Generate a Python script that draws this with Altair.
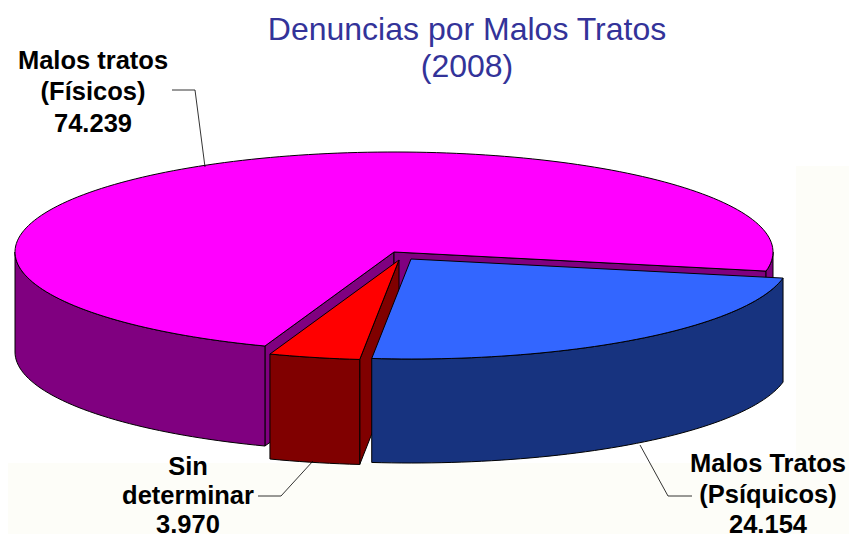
import math
import altair as alt
import pandas as pd

categories = ["Malos tratos (Físicos)", "Malos Tratos (Psíquicos)", "Sin determinar"]
values = [74239, 24154, 3970]
top_colors = ["#FF00FF", "#3366FF", "#FF0000"]
wall_colors = ["#800080", "#17337F", "#800000"]
apex_x = [394, 411, 399]
apex_y = [252, 259, 260]
depths = [100, 104, 105]
RX, RY = 379, 100
START = 11.0
TITLE_COLOR = "#333399"
BG = "#FDFDF8"

label_text = ["Malos tratos", "(Físicos)", "74.239", "Sin", "determinar", "3.970",
              "Malos Tratos", "(Psíquicos)", "24.154"]
label_x = [93, 93, 93, 188, 188, 188, 768, 768, 768]
label_y = [69, 100, 132, 475, 504, 533, 472, 503, 533]
title_text = ["Denuncias por Malos Tratos", "(2008)"]
title_x = [467, 467]
title_y = [40, 77]
leaders = [
    [(172, 90), (195, 90), (205, 167)],
    [(258, 496), (281, 496), (313, 461)],
    [(692, 496), (668, 496), (640, 445)],
]

xscale = alt.Scale(domain=[8, 849], range=[0, 841], nice=False, zero=False)
yscale = alt.Scale(domain=[8, 534], range=[0, 526], nice=False, zero=False)
X = alt.X("x:Q", scale=xscale, axis=None)
Y = alt.Y("y:Q", scale=yscale, axis=None)


def poly(points):
    points = list(points) + [points[0]]
    return pd.DataFrame({"x": [p[0] for p in points], "y": [p[1] for p in points], "o": range(len(points))})


def shape(points, fill, sw=1.0):
    return alt.Chart(poly(points)).mark_line(
        fill=fill, stroke="#000000", strokeWidth=sw, interpolate="linear", strokeJoin="miter"
    ).encode(x=X, y=Y, order="o:Q")


def rim(i, a, b, dy=0):
    n = max(2, int(abs(b - a) / 1.5))
    return [
        (apex_x[i] + RX * math.cos(math.radians(a + (b - a) * k / n)),
         apex_y[i] + RY * math.sin(math.radians(a + (b - a) * k / n)) + dy)
        for k in range(n + 1)
    ]


total = sum(values)
spans = [v / total * 360 for v in values]
ang = {
    0: (START + spans[1] + spans[2], START + 360),
    1: (START, START + spans[1]),
    2: (START + spans[1], START + spans[1] + spans[2]),
}


def pieces(i, cut_ends):
    a, b = ang[i]
    d = depths[i]
    top = rim(i, a, b)
    c = (apex_x[i], apex_y[i])
    c2 = (apex_x[i], apex_y[i] + d)
    out = []
    for end in cut_ends:
        p = rim(i, a, b)[end]
        out.append(shape([c, p, (p[0], p[1] + d), c2], wall_colors[i]))
    # only the part of the outer wall that faces the viewer
    ranges = []
    if a < 180:
        ranges.append((a, min(b, 180)))
    if b > 360:
        ranges.append((360, b))
    for lo, hi in ranges:
        t = rim(i, lo, hi)
        bt = rim(i, lo, hi, d)
        out.append(shape(t + bt[::-1], wall_colors[i]))
    out.append(shape([c] + top, top_colors[i]))
    return out


bg_low = alt.Chart(pd.DataFrame({"x": [8], "x2": [849], "y": [166], "y2": [534]})).mark_rect(color=BG).encode(
    x=X, x2="x2:Q", y=Y, y2="y2:Q")
bg_mid = alt.Chart(pd.DataFrame({"x": [8], "x2": [796], "y": [166], "y2": [463]})).mark_rect(color="#FFFFFF").encode(
    x=X, x2="x2:Q", y=Y, y2="y2:Q")

layers = [bg_low, bg_mid]
layers += pieces(0, [0, -1])
layers += pieces(2, [0])
layers += pieces(1, [])
for pts in leaders:
    df = pd.DataFrame({"x": [p[0] for p in pts], "y": [p[1] for p in pts], "o": range(len(pts))})
    layers.append(alt.Chart(df).mark_line(color="#000000", strokeWidth=0.8).encode(x=X, y=Y, order="o:Q"))

labels = pd.DataFrame({"t": label_text, "x": label_x, "y": label_y})
layers.append(alt.Chart(labels).mark_text(font="Liberation Sans", fontWeight="bold", fontSize=25.5, color="#000000",
                                          align="center", baseline="alphabetic").encode(x=X, y=Y, text="t:N"))
titles = pd.DataFrame({"t": title_text, "x": title_x, "y": title_y})
layers.append(alt.Chart(titles).mark_text(font="Liberation Sans", fontSize=32, color=TITLE_COLOR,
                                          align="center", baseline="alphabetic").encode(x=X, y=Y, text="t:N"))

chart = alt.layer(*layers).properties(width=841, height=526, padding=0, background="#FFFFFF").configure_view(stroke=None)
chart.save("out.html", embed_options={"renderer": "svg", "actions": False})
